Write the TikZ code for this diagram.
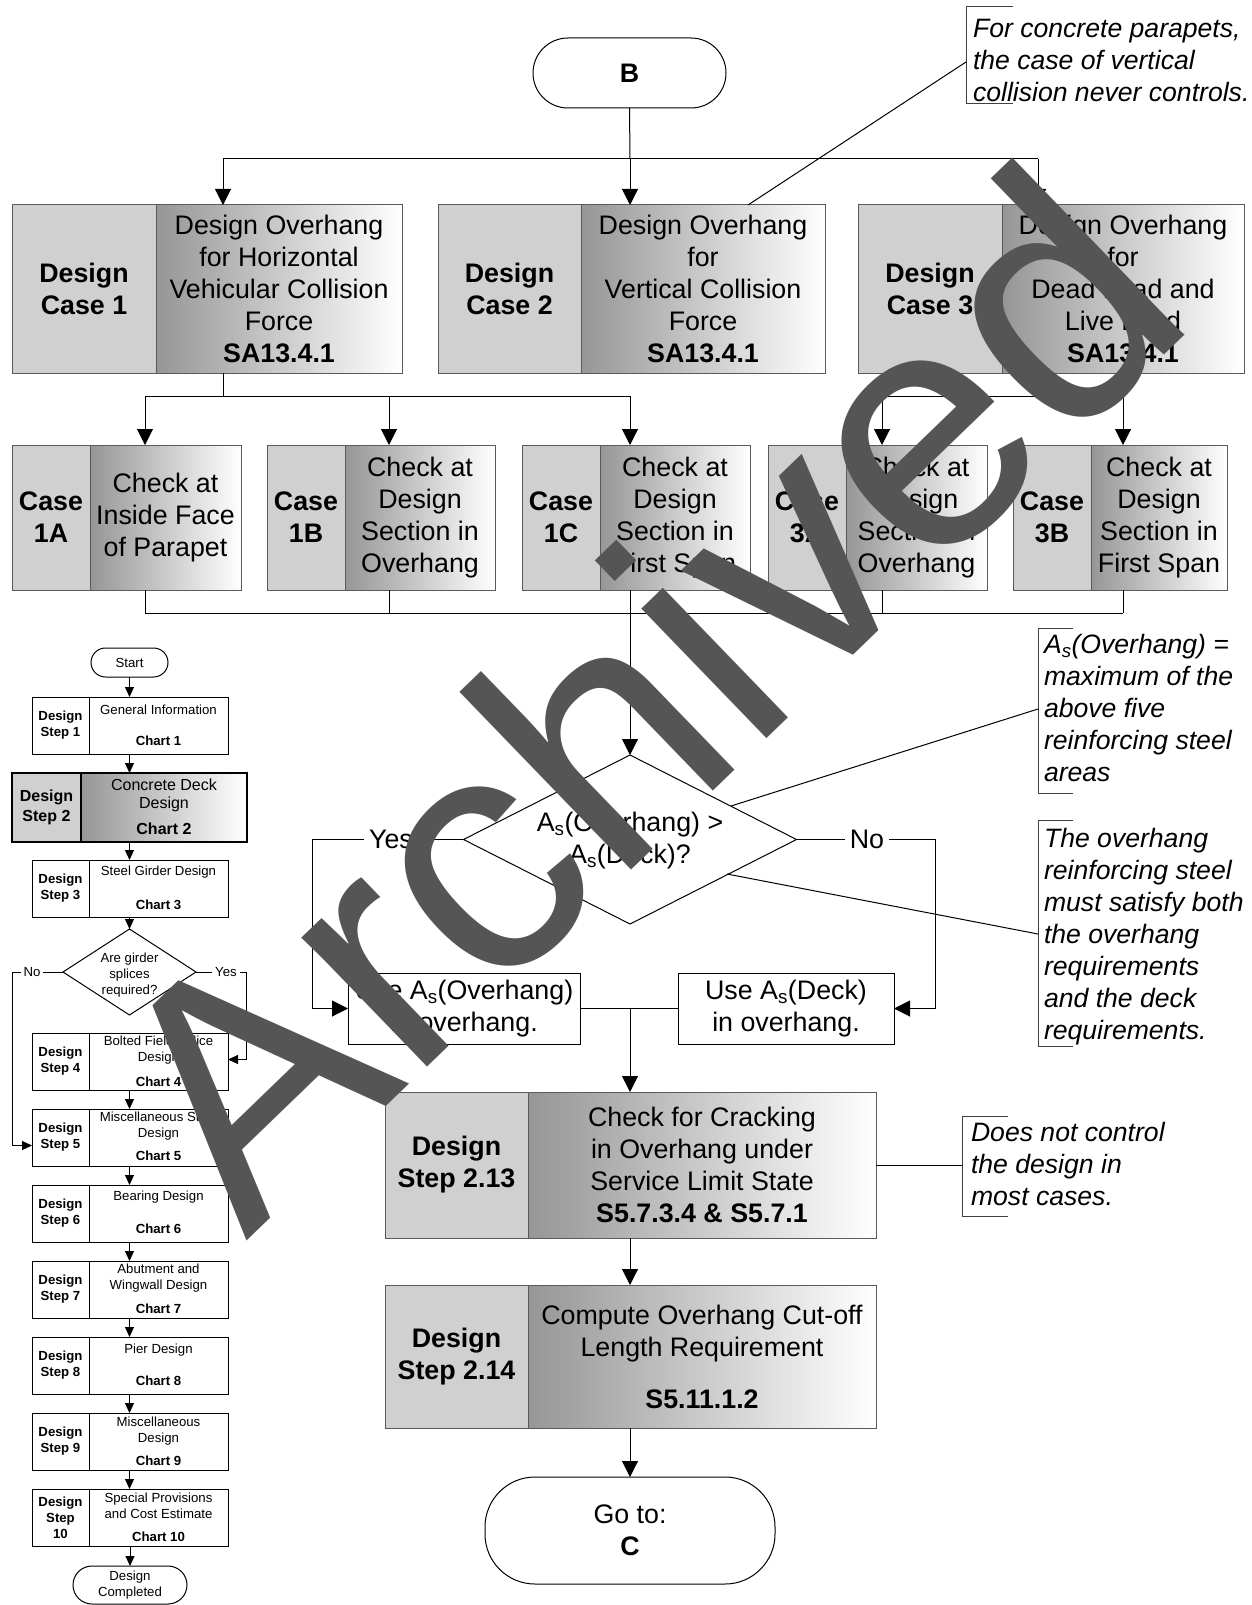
\documentclass[tikz,border=0pt]{standalone}
\usepackage{fontspec}
\setmainfont{Liberation Sans}
\usetikzlibrary{arrows.meta,fit,shapes.geometric}

\definecolor{hatchgray}{RGB}{208,208,208}
\definecolor{shadedark}{RGB}{150,150,150}
\definecolor{framegray}{RGB}{90,90,90}
\definecolor{wmgray}{RGB}{85,85,85}

\newcommand\As{A\textsubscript{s}}

\tikzset{
  every node/.style={inner sep=0pt, outer sep=0pt},
  hatchbox/.style={draw=framegray, fill=hatchgray, line width=1pt},
  shadebox/.style={draw=framegray, left color=shadedark, right color=white, line width=1pt},
  plainbox/.style={draw=black, fill=white, line width=1pt},
  txt/.style={font=\fontsize{26.8}{32}\selectfont, align=center},
  txtb/.style={font=\fontsize{26.8}{32}\selectfont\bfseries, align=center},
  note/.style={font=\fontsize{26.6}{32}\selectfont\itshape, align=left, anchor=west},
  tiny/.style={font=\fontsize{13.2}{16}\selectfont, align=center},
  tinyb/.style={font=\fontsize{13.2}{16}\selectfont\bfseries, align=center},
  mid/.style={font=\fontsize{16}{18}\selectfont, align=center},
  midb/.style={font=\fontsize{16}{20}\selectfont\bfseries, align=center},
  conn/.style={draw=black, line width=1pt},
  arr/.style={conn, -{Triangle[width=16pt,length=16pt]}},
  sarr/.style={conn, -{Triangle[width=9pt,length=10pt]}},
  bracket/.style={draw=black!75, line width=1pt},
  terminal/.style={draw=black, fill=white, line width=1pt},
  branchlabel/.style={fill=white, inner xsep=5pt, inner ysep=2pt},
}

% two-part process box: hatched label cell + shaded description cell
\newcommand\pairbox[8]{%
  \node[hatchbox, fit={(#2,#5) (#3,#6)}] (#1l) {};
  \node[shadebox, fit={(#3,#5) (#4,#6)}] (#1r) {};
  \node[txtb] (#1lt) at (#1l.center) {#7};
  \node[txt] (#1rt) at (#1r.center) {#8};
}
% small step box of the overview chart
\newcommand\ministep[7]{%
  \node[plainbox, fit={(32,#2) (89,#2+57)}] (#1l) {};
  \node[plainbox, fit={(89,#2) (228,#2+57)}] (#1r) {};
  \node[tinyb] (#1s) at (#1l.center) {#3};
  \node[tiny] (#1t) at (158.5,#2+#5) {#4};
  \node[tinyb] (#1c) at (158.5,#2+#7) {#6};
}

\begin{document}
\begin{tikzpicture}[x=1pt, y=-1pt]
\useasboundingbox (0,0) rectangle (1251,1605);

% ---------- start terminal and the three design cases ----------
\node[terminal, rounded corners=35pt, fit={(533,38) (726,108)}] (B) {};
\node[txtb] (Bt) at (B.center) {B};

\pairbox{c1}{12}{156}{402}{205}{373}{Design\\Case 1}
  {Design Overhang\\for Horizontal\\Vehicular Collision\\Force\\\textbf{SA13.4.1}}
\pairbox{c2}{438}{581}{825}{205}{373}{Design\\Case 2}
  {Design Overhang\\for\\Vertical Collision\\Force\\\textbf{SA13.4.1}}
\pairbox{c3}{858}{1002}{1244}{205}{373}{Design\\Case 3}
  {Design Overhang\\for\\Dead Load and\\Live Load\\\textbf{SA13.4.1}}

\coordinate (jt) at (630,159);
\coordinate (jtl) at (223,159);
\coordinate (jtr) at (1038,159);
\draw[conn] (B.south) -- (jt);
\draw[conn] (jtl) -- (jtr);
\draw[arr] (jtl) -- (c1r.north -| jtl);
\draw[arr] (jt) -- (c2r.north -| jt);
\draw[arr] (jtr) -- (c3r.north -| jtr);

% ---------- sub-cases ----------
\pairbox{ka}{12}{90}{241}{445}{590}{Case\\1A}{Check at\\Inside Face\\of Parapet}
\pairbox{kb}{267}{345}{495}{445}{590}{Case\\1B}{Check at\\Design\\Section in\\Overhang}
\pairbox{kc}{522}{600}{750}{445}{590}{Case\\1C}{Check at\\Design\\Section in\\First Span}
\pairbox{kd}{768}{846}{987}{445}{590}{Case\\3A}{Check at\\Design\\Section in\\Overhang}
\pairbox{ke}{1013}{1091}{1227}{445}{590}{Case\\3B}{Check at\\Design\\Section in\\First Span}

\coordinate (j1) at (223,396);
\coordinate (j1a) at (145,396);
\coordinate (j1b) at (389,396);
\coordinate (j1c) at (630,396);
\draw[conn] (c1r.south -| j1) -- (j1);
\draw[conn] (j1a) -- (j1c);
\draw[arr] (j1a) -- (kar.north -| j1a);
\draw[arr] (j1b) -- (kbr.north -| j1b);
\draw[arr] (j1c) -- (kcr.north -| j1c);

\coordinate (j3) at (1038,396);
\coordinate (j3a) at (882,396);
\coordinate (j3b) at (1123,396);
\draw[conn] (c3r.south -| j3) -- (j3);
\draw[conn] (j3a) -- (j3b);
\draw[arr] (j3a) -- (kdr.north -| j3a);
\draw[arr] (j3b) -- (ker.north -| j3b);

\coordinate (b1) at (145,613);
\coordinate (b2) at (389,613);
\coordinate (b3) at (630,613);
\coordinate (b4) at (882,613);
\coordinate (b5) at (1123,613);
\draw[conn] (kar.south -| b1) -- (b1);
\draw[conn] (kbr.south -| b2) -- (b2);
\draw[conn] (kcr.south -| b3) -- (b3);
\draw[conn] (kdr.south -| b4) -- (b4);
\draw[conn] (ker.south -| b5) -- (b5);
\draw[conn] (b1) -- (b5);

% ---------- decision ----------
\node[draw, diamond, line width=1pt, minimum width=333pt, minimum height=169pt] (dec) at (630,839.5) {};
\node[txt] (dect) at (630,841) {\As(Overhang) >\\\As(Deck)?};
\draw[arr] (b3) -- (dec.north);

\node[plainbox, fit={(348,973) (580,1044)}] (use1) {};
\node[plainbox, fit={(678,973) (894,1044)}] (use2) {};
\node[txt] (use1t) at (use1.center) {Use \As(Overhang)\\in overhang.};
\node[txt] (use2t) at (use2.center) {Use \As(Deck)\\in overhang.};

\coordinate (ycorner) at (312,839.5);
\coordinate (ncorner) at (935,839.5);
\draw[arr] (dec.west) -- (ycorner) |- (use1.west);
\draw[arr] (dec.east) -- (ncorner) |- (use2.east);
\node[txt, branchlabel] (yes) at (391,839.5) {Yes};
\node[txt, branchlabel] (no) at (867,839.5) {No};

\coordinate (jm) at (use1.east -| dec.south);
\draw[conn] (use1.east) -- (use2.west);

% ---------- design steps 2.13 and 2.14 ----------
\pairbox{sa}{385}{528}{876}{1092}{1238}{Design\\Step 2.13}
  {Check for Cracking\\in Overhang under\\Service Limit State\\\textbf{S5.7.3.4 \& S5.7.1}}
\pairbox{sb}{385}{528}{876}{1285}{1428}{Design\\Step 2.14}
  {Compute Overhang Cut-off\\Length Requirement\\[20pt]\textbf{S5.11.1.2}}
\node[terminal, rounded corners=50pt, fit={(485,1477) (775,1584)}] (C) {};
\node[txt] (Ct) at (C.center) {Go to:\\\textbf{C}};

\draw[arr] (jm) -- (sar.north -| jm);
\draw[arr] (sar.south -| jm) -- (sbr.north -| jm);
\draw[arr] (sbr.south -| C.north) -- (C.north);

% ---------- annotations ----------
\draw[bracket] (1013,7) -- (966,7) -- (966,104) -- (1013,104);
\node[note] (n1) at (973,60.5) {For concrete parapets,\\the case of vertical\\collision never controls.};
\coordinate (n1a) at (748,205);
\coordinate (n1b) at (966,62);
\draw[conn] (n1a) -- (n1b);

\draw[bracket] (1073,628) -- (1038,628) -- (1038,793) -- (1073,793);
\node[note] (n2) at (1044,708) {\As(Overhang) =\\maximum of the\\above five\\reinforcing steel\\areas};
\coordinate (n2a) at (731,806);
\coordinate (n2b) at (1038,709);
\draw[conn] (n2a) -- (n2b);

\draw[bracket] (1073,820) -- (1038,820) -- (1038,1046) -- (1073,1046);
\node[note] (n3) at (1044,937) {The overhang\\reinforcing steel\\must satisfy both\\the overhang\\requirements\\and the deck\\requirements.};
\coordinate (n3a) at (727,874);
\coordinate (n3b) at (1038,934);
\draw[conn] (n3a) -- (n3b);

\draw[bracket] (1008,1116) -- (962,1116) -- (962,1216) -- (1008,1216);
\node[note] (n4) at (971,1164) {Does not control\\the design in\\most cases.};
\coordinate (n4b) at (962,1165);
\draw[conn] (sar.east) -- (n4b);

% ---------- overview chart ----------
\node[terminal, rounded corners=14.5pt, fit={(91,648) (168,677)}] (start) {};
\node[tiny] (startt) at (start.center) {Start};
\ministep{m1}{697}{Design\\Step 1}{General Information}{12.5}{Chart 1}{43.5}
\node[hatchbox, draw=black, line width=2.5pt, fit={(12,773) (81,842)}] (m2l) {};
\node[shadebox, draw=black, line width=2.5pt, fit={(81,773) (247,842)}] (m2r) {};
\node[midb] (m2s) at (m2l.center) {Design\\Step 2};
\node[mid] (m2t) at (164,795) {Concrete Deck\\Design};
\node[midb] (m2c) at (164,829) {Chart 2};
\ministep{m3}{860}{Design\\Step 3}{Steel Girder Design}{12.5}{Chart 3}{44.5}
\node[draw, diamond, line width=1pt, minimum width=133pt, minimum height=86pt] (gird) at (129.5,972) {};
\node[tiny] (girdt) at (129.5,975) {Are girder\\splices\\required?};
\ministep{m4}{1033}{Design\\Step 4}{Bolted Field Splice\\Design}{17.5}{Chart 4}{48.5}
\ministep{m5}{1109}{Design\\Step 5}{Miscellaneous Steel\\Design}{17.5}{Chart 5}{46.5}
\ministep{m6}{1185}{Design\\Step 6}{Bearing Design}{12.5}{Chart 6}{43.5}
\ministep{m7}{1261}{Design\\Step 7}{Abutment and\\Wingwall Design}{17.5}{Chart 7}{47.5}
\ministep{m8}{1337}{Design\\Step 8}{Pier Design}{13}{Chart 8}{43.5}
\ministep{m9}{1413}{Design\\Step 9}{Miscellaneous\\Design}{18}{Chart 9}{48}
\ministep{m10}{1489}{Design\\Step\\10}{Special Provisions\\and Cost Estimate}{17}{Chart 10}{48}
\node[terminal, rounded corners=19pt, fit={(73,1566) (187,1604)}] (done) {};
\node[tiny] (donet) at (done.center) {Design\\Completed};

\draw[sarr] (start.south) -- (m1r.north -| start.south);
\draw[sarr] (m1r.south -| start.south) -- (m2r.north -| start.south);
\draw[sarr] (m2r.south -| start.south) -- (m3r.north -| start.south);
\draw[sarr] (m3r.south -| gird.north) -- (gird.north);
\draw[sarr] (m4r.south -| start.south) -- (m5r.north -| start.south);
\draw[sarr] (m5r.south -| start.south) -- (m6r.north -| start.south);
\draw[sarr] (m6r.south -| start.south) -- (m7r.north -| start.south);
\draw[sarr] (m7r.south -| start.south) -- (m8r.north -| start.south);
\draw[sarr] (m8r.south -| start.south) -- (m9r.north -| start.south);
\draw[sarr] (m9r.south -| start.south) -- (m10r.north -| start.south);
\draw[sarr] (m10r.south -| done.north) -- (done.north);

\coordinate (noc) at (12,972);
\coordinate (yesc) at (246,972);
\draw[sarr] (gird.west) -- (noc) |- ([yshift=-8pt]m5l.west);
\draw[sarr] (gird.east) -- (yesc) |- ([yshift=2pt]m4r.east);
\node[tiny, fill=white, inner xsep=3pt] (nol) at (32,972) {No};
\node[tiny, fill=white, inner xsep=3pt] (yesl) at (226,972) {Yes};

% ---------- watermark ----------
\node[font=\fontsize{341}{341}\selectfont, text=wmgray, rotate=44] (wm) at (639,693) {Archived};
\end{tikzpicture}
\end{document}
